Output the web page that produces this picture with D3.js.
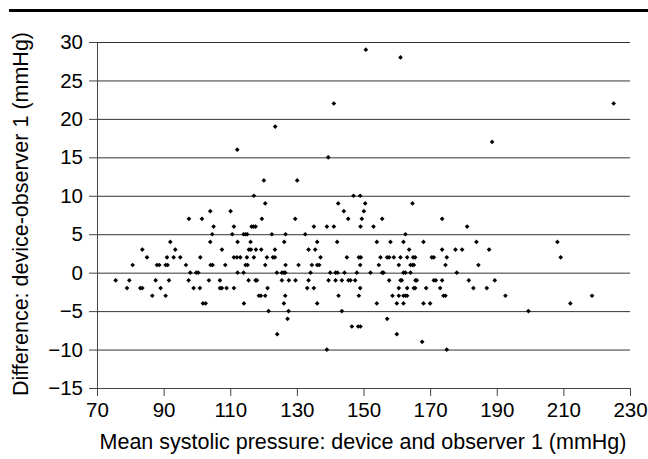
<!DOCTYPE html>
<html>
<head>
<meta charset="utf-8">
<script src="https://cdn.jsdelivr.net/npm/d3@7"></script>
<style>
  body { margin: 0; background: #fff; }
  svg { display: block; font-family: "Liberation Sans", Arial, Helvetica, sans-serif; }
  .axis path, .axis line { stroke: #444; }
  .grid line { stroke: #333; }
  .grid path { display: none; }
</style>
</head>
<body>
<div id="chart"></div>
<script>
// difference values (mmHg) and the mean pressures that were plotted at each one
const diffLevels = [29, 28, 22, 19, 17, 16, 15, 12, 10, 9, 8, 7, 6, 5, 4, 3, 2, 1, 0,
    -1, -2, -3, -4, -5, -6, -7, -8, -9, -10];

const meansAtLevel = [
    [150.7],
    [161.1],
    [141.1, 225.1],
    [123.5],
    [188.6],
    [112.1],
    [139.4],
    [120.1, 130.1],
    [117.1, 147, 149],
    [120.5, 142.4, 150.5, 164.7],
    [104, 110.1, 144.1, 150.1],
    [97.6, 101.5, 119.5, 129.5, 145.4, 149.5, 155.6, 173.6],
    [105, 111.1, 116.4, 117, 117.6, 135.1, 139, 141.1, 149.1, 153, 181.1],
    [104.6, 110.6, 114, 114.6, 115.1, 122.5, 126.6, 132.5, 162.6],
    [92, 104, 112.2, 116.1, 126.2, 136.1, 142.1, 154, 158.1, 162, 168, 183.9, 208.2],
    [83.6, 93.5, 107.5, 115.6, 116.2, 117.7, 119.3, 123.4, 133.5, 135.5, 163.7, 173.6,
        177.6, 179.6, 187.7],
    [85, 91, 93, 95, 101, 111.1, 112, 113, 115, 117.1, 121, 122.8, 123.4, 137.1, 145,
        148.6, 149.2, 155.1, 157.1, 157.7, 159.1, 161.1, 163.1, 164.9, 165.5, 170.5,
        171.1, 175, 209.2],
    [80.7, 88, 88.7, 90.6, 91.2, 96.7, 104.1, 104.7, 108.5, 114.6, 115.2, 120.5, 126.6,
        130.5, 134.5, 136.1, 136.7, 149, 154.6, 160.6, 164.1, 164.7, 165.1, 174.6, 184.5],
    [98, 99.8, 100.4, 112.2, 114, 124, 125.5, 126.1, 126.5, 134.1, 140, 141.6, 142.2,
        144.3, 148, 152.1, 155.6, 156, 162, 162.6, 164.1, 178],
    [75.6, 79.7, 87.6, 91.6, 97.5, 103.6, 106.9, 115.5, 117.6, 118, 125.5, 127.6, 129.6,
        133.5, 139.5, 141.6, 143.5, 145.5, 146.1, 147.5, 157.7, 161.1, 161.5, 165.6, 166,
        171.1, 171.7, 173.6, 181.6, 189.4],
    [79, 83, 83.6, 89.1, 99, 100.9, 106.9, 107.5, 108.9, 111.1, 121.2, 133.1, 135.1, 149,
        160.6, 163.1, 165.1, 165.5, 168.8, 173, 183, 187],
    [86.6, 90.6, 118.6, 119.2, 120.5, 126.5, 142.5, 148.6, 158.7, 160.6, 162, 162.6, 163.1,
        174, 174.6, 192.6, 218.6],
    [101.8, 102.6, 114.1, 126.1, 136.1, 154, 160, 162, 168, 170, 212.1],
    [121.5, 127.5, 143.5, 199.5],
    [127.2, 157.1],
    [146.5, 148.4, 149.1],
    [124.1, 160],
    [167.6],
    [139, 175]
];

const xTicks = [70, 90, 110, 130, 150, 170, 190, 210, 230];
const yTicks = [-15, -10, -5, 0, 5, 10, 15, 20, 25, 30];

const xTitle = 'Mean systolic pressure: device and observer 1 (mmHg)';
const yTitle = 'Difference: device-observer 1 (mmHg)';

const points = diffLevels.flatMap((d, i) => meansAtLevel[i].map((m) => ({ mean: m, diff: d })));

const width = 648;
const height = 459;
const plot = { left: 97, right: 630, top: 42, bottom: 388 };

const xScale = d3.scaleLinear().domain([70, 230]).range([plot.left, plot.right]);
const yScale = d3.scaleLinear().domain([-15, 30]).range([plot.bottom, plot.top]);

const svg = d3.select('#chart')
    .append('svg')
    .attr('width', width)
    .attr('height', height);

// rule across the top of the figure
svg.append('line')
    .attr('x1', 9).attr('x2', width)
    .attr('y1', 10.5).attr('y2', 10.5)
    .attr('stroke', '#000')
    .attr('stroke-width', 3);

// horizontal gridlines
svg.append('g')
    .attr('class', 'grid')
    .attr('transform', `translate(${plot.left}, 0)`)
    .call(d3.axisLeft(yScale).tickValues(yTicks).tickFormat('').tickSize(-(plot.right - plot.left)));

// y axis
svg.append('g')
    .attr('class', 'axis')
    .attr('transform', `translate(${plot.left}, 0)`)
    .call(d3.axisLeft(yScale).tickValues(yTicks).tickSize(8).tickSizeOuter(0).tickPadding(6));

// x axis
svg.append('g')
    .attr('class', 'axis')
    .attr('transform', `translate(0, ${plot.bottom})`)
    .call(d3.axisBottom(xScale).tickValues(xTicks).tickSize(8).tickSizeOuter(0).tickPadding(6));

svg.selectAll('.axis text')
    .attr('fill', '#000')
    .style('font-size', '20.5px');

// points
const marker = d3.symbol().type(d3.symbolDiamond2).size(14);
svg.append('g')
    .selectAll('path')
    .data(points)
    .join('path')
    .attr('d', marker)
    .attr('transform', (d) => `translate(${xScale(d.mean)}, ${yScale(d.diff)})`)
    .attr('fill', '#000');

// axis titles
svg.append('text')
    .attr('x', 363)
    .attr('y', 449)
    .attr('text-anchor', 'middle')
    .style('font-size', '21.5px')
    .text(xTitle);

svg.append('text')
    .attr('transform', `translate(28, 214) rotate(-90)`)
    .attr('text-anchor', 'middle')
    .style('font-size', '21.5px')
    .text(yTitle);
</script>
</body>
</html>
